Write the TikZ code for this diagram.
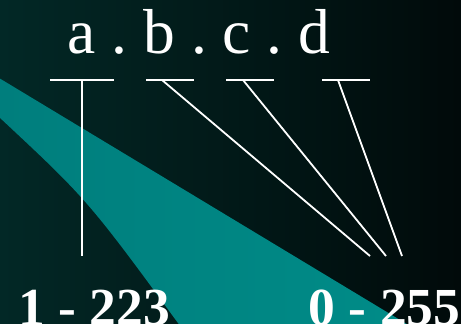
\documentclass[tikz,border=0pt]{standalone}
\usepackage{fontspec}
\setmainfont{Liberation Serif}
\definecolor{bgleft}{RGB}{2,40,38}
\definecolor{bgright}{RGB}{1,10,10}
\definecolor{wedgeL}{RGB}{0,126,125}
\definecolor{wedgeR}{RGB}{0,140,136}

\begin{document}
\frenchspacing
\begin{tikzpicture}[x=1pt,y=-1pt,every node/.style={text=white,inner sep=0pt},ubar/.style={fill=white,minimum height=2.4pt,minimum width=48pt},link/.style={draw=white,line width=1.8pt},octets/.style={font=\fontsize{63.5}{70}\selectfont,anchor=base west},span/.style={font=\bfseries\fontsize{53.5}{60}\selectfont,anchor=base west}]
\useasboundingbox (0,0) rectangle (461,324);
\shade[left color=bgleft,right color=bgright] (0,0) rectangle (461,324);
\begin{scope}
\clip (0,0) rectangle (461,324);
\shade[left color=wedgeL,right color=wedgeR] (-1,78) -- (420,332) -- (186,334) .. controls (88,200) .. (-1,117) -- cycle;
\end{scope}
% dotted address and its octet bars
\node[octets] (addr) at (67.5,53) {a . b . c . d};
\node[ubar,minimum width=64pt] (ua) at (82,80) {};
\node[ubar] (ub) at (170,80) {};
\node[ubar] (uc) at (250,80) {};
\node[ubar] (ud) at (346,80) {};
\coordinate (sa) at (82,80);
\coordinate (sb) at (162,80);
\coordinate (sc) at (243,80);
\coordinate (sd) at (338,80);
\coordinate (ea) at (82,256);
\coordinate (eb) at (370,256);
\coordinate (ec) at (386,256);
\coordinate (ed) at (402,256);
\draw[link] (sa) -- (ea);
\draw[link] (sb) -- (eb);
\draw[link] (sc) -- (ec);
\draw[link] (sd) -- (ed);
% value ranges
\node[span] (first) at (18,325) {1 - 223};
\node[span] (rest) at (308.5,325) {0 - 255};
\end{tikzpicture}
\end{document}
